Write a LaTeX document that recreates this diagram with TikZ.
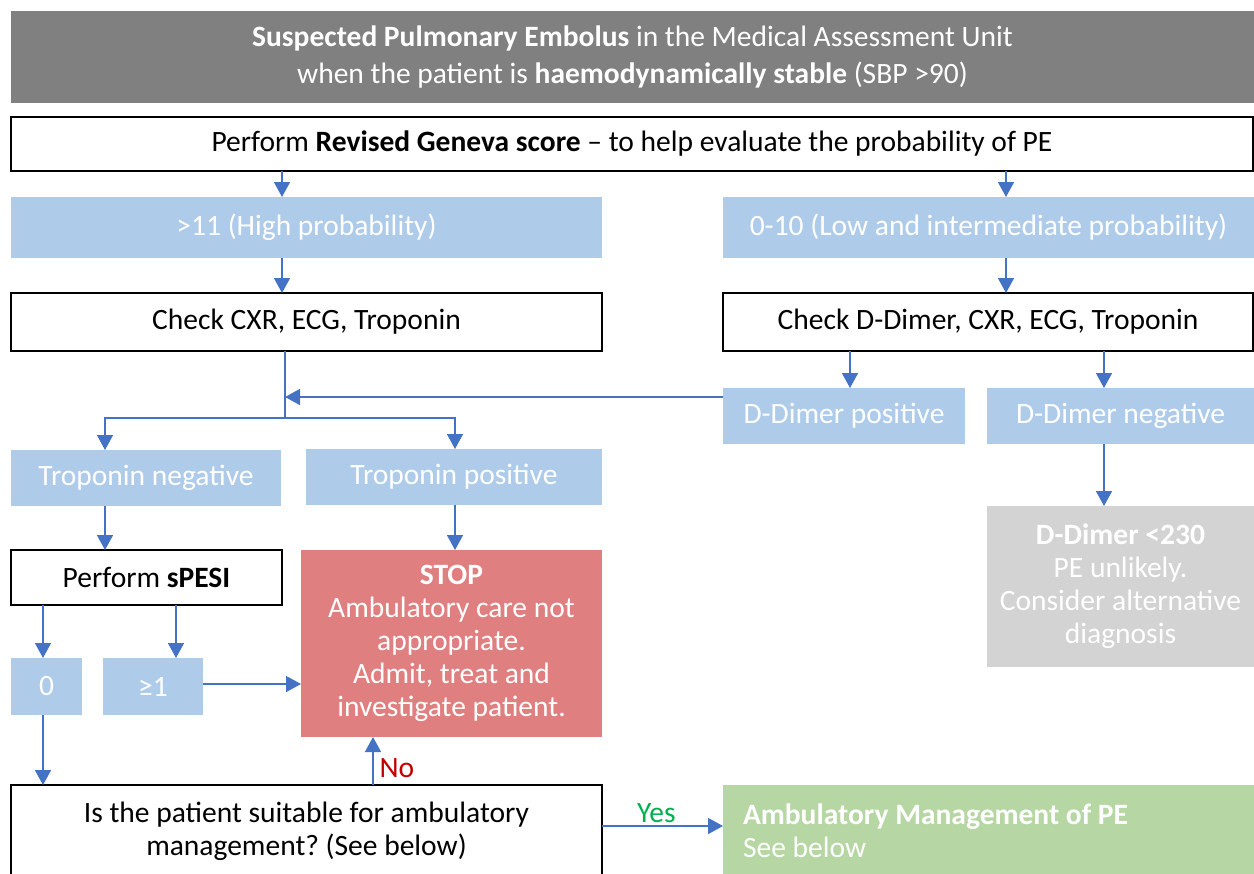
\documentclass[tikz,border=0pt]{standalone}
\usepackage{fontspec}
\setmainfont{Carlito}
\usepackage{tikz}
\usetikzlibrary{arrows.meta,calc,positioning}
\frenchspacing
\definecolor{pe_gray}{RGB}{128, 128, 128}
\definecolor{pe_blue}{RGB}{174, 203, 233}
\definecolor{pe_line}{RGB}{68, 114, 196}
\definecolor{pe_red}{RGB}{224, 127, 127}
\definecolor{pe_grey}{RGB}{211, 211, 211}
\definecolor{pe_green}{RGB}{182, 214, 164}
\definecolor{no_red}{RGB}{192, 0, 0}
\definecolor{yes_green}{RGB}{0, 176, 80}
\tikzset{
  flowbox/.style = {rectangle, inner sep=0pt, outer sep=0pt, align=center,
  font=\fontsize{16.8}{18.8}\selectfont},
  sz/.style 2 args = {minimum width=#1*0.02cm, minimum height=#2*0.02cm},
  whitebox/.style = {flowbox, draw=black, line width=1.1pt, fill=white, text=black},
  bluebox/.style = {flowbox, fill=pe_blue, text=white},
  arr/.style = {-{Triangle[width=0.32cm,length=0.3cm]}, draw=pe_line, line width=0.85pt},
  link/.style = {draw=pe_line, line width=0.85pt}
}

\begin{document}
\begin{tikzpicture}[x=0.02cm, y=-0.02cm,
        titlebox/.style={flowbox, fill=pe_gray, text=white, font=\fontsize{16.8}{21}\selectfont},
        stopbox/.style={flowbox, fill=pe_red, text=white},
        greybox/.style={flowbox, fill=pe_grey, text=white},
        greenbox/.style={flowbox, fill=pe_green, text=white},
        lbl/.style={font=\fontsize{16.8}{18.8}\selectfont}]
        \useasboundingbox (0,0) rectangle (1254,873);
        \clip (0,0) rectangle (1254,873);
        % header and score
        \node [titlebox, sz={1243}{92}] (title) at (632.5,57)
            {\textbf{Suspected Pulmonary Embolus} in the Medical Assessment Unit\\
            when the patient is \textbf{haemodynamically stable} (SBP >90)};
        \node [whitebox, sz={1242}{54}] (geneva) at (632,144)
            {Perform \textbf{Revised Geneva score} -- to help evaluate the probability of PE};
        % probability branches
        \node [bluebox, sz={591}{61}] (high) at (306.5,227.5) {>11 (High probability)};
        \node [bluebox, sz={531}{61}] (low) at (988.5,227.5) {0-10 (Low and intermediate probability)};
        \node [whitebox, sz={591}{58}] (cxr) at (306.5,322) {Check CXR, ECG, Troponin};
        \node [whitebox, sz={530}{58}] (ddcheck) at (988,322) {Check D-Dimer, CXR, ECG, Troponin};
        \node [bluebox, sz={242}{56}] (ddpos) at (844,416) {D-Dimer positive};
        \node [bluebox, sz={267}{56}] (ddneg) at (1120.5,416) {D-Dimer negative};
        \node [greybox, sz={267}{161}] (ddlow) at (1120.5,586.5)
            {\textbf{D-Dimer <230}\\PE unlikely.\\Consider alternative\\diagnosis};
        % troponin and sPESI
        \node [bluebox, sz={270}{56}] (tropneg) at (146,478) {Troponin negative};
        \node [bluebox, sz={296}{56}] (troppos) at (454,477) {Troponin positive};
        \node [whitebox, sz={271}{55}] (spesi) at (146.5,577.5) {Perform \textbf{sPESI}};
        \node [stopbox, sz={301}{187}] (stop) at (451.5,643.5)
            {\textbf{STOP}\\Ambulatory care not\\appropriate.\\Admit, treat and\\investigate patient.};
        \node [bluebox, sz={71}{57}] (zero) at (46.5,686.5) {0};
        \node [bluebox, sz={100}{57}] (one) at (153,686.5) {≥1};
        \node [whitebox, sz={591}{92}] (suit) at (306.5,831)
            {Is the patient suitable for ambulatory\\management? (See below)};
        \node [greenbox, sz={531}{92}, text width=491*0.02cm, align=flush left] (amb) at (988.5,831)
            {\textbf{Ambulatory Management of PE}\\See below};

        % connector columns
        \coordinate (xhi) at (282,0);
        \coordinate (xlo) at (1006,0);
        \coordinate (xddp) at (850,0);
        \coordinate (xddn) at (1104,0);
        \coordinate (xtn) at (105,0);
        \coordinate (xtp) at (455,0);
        \coordinate (xz) at (43,0);
        \coordinate (xo) at (176,0);
        \coordinate (xno) at (373,0);
        \coordinate (split) at (285,418);
        \coordinate (merge) at (285,397);
        \coordinate (yone) at (0,684);
        \coordinate (yyes) at (0,826);

        \draw [arr] (geneva.south -| xhi) -- (high.north -| xhi);
        \draw [arr] (geneva.south -| xlo) -- (low.north -| xlo);
        \draw [arr] (high.south -| xhi) -- (cxr.north -| xhi);
        \draw [arr] (low.south -| xlo) -- (ddcheck.north -| xlo);
        \draw [arr] (ddcheck.south -| xddp) -- (ddpos.north -| xddp);
        \draw [arr] (ddcheck.south -| xddn) -- (ddneg.north -| xddn);
        \draw [arr] (ddneg.south -| xddn) -- (ddlow.north -| xddn);
        \draw [link] (cxr.south -| split) -- (split);
        \draw [arr] (ddpos.west |- merge) -- (merge);
        \draw [arr] (split) -| (tropneg.north -| xtn);
        \draw [arr] (split) -| (troppos.north -| xtp);
        \draw [arr] (tropneg.south -| xtn) -- (spesi.north -| xtn);
        \draw [arr] (troppos.south -| xtp) -- (stop.north -| xtp);
        \draw [arr] (spesi.south -| xz) -- (zero.north -| xz);
        \draw [arr] (spesi.south -| xo) -- (one.north -| xo);
        \draw [arr] (one.east |- yone) -- (stop.west |- yone);
        \draw [arr] (zero.south -| xz) -- (suit.north -| xz);
        \draw [arr] (suit.north -| xno) -- node [lbl, right, pos=0.35, text=no_red] {No} (stop.south -| xno);
        \draw [arr] (suit.east |- yyes) -- node [lbl, above=-2pt, pos=0.45, text=yes_green] {Yes} (amb.west |- yyes);
\end{tikzpicture}
\end{document}
